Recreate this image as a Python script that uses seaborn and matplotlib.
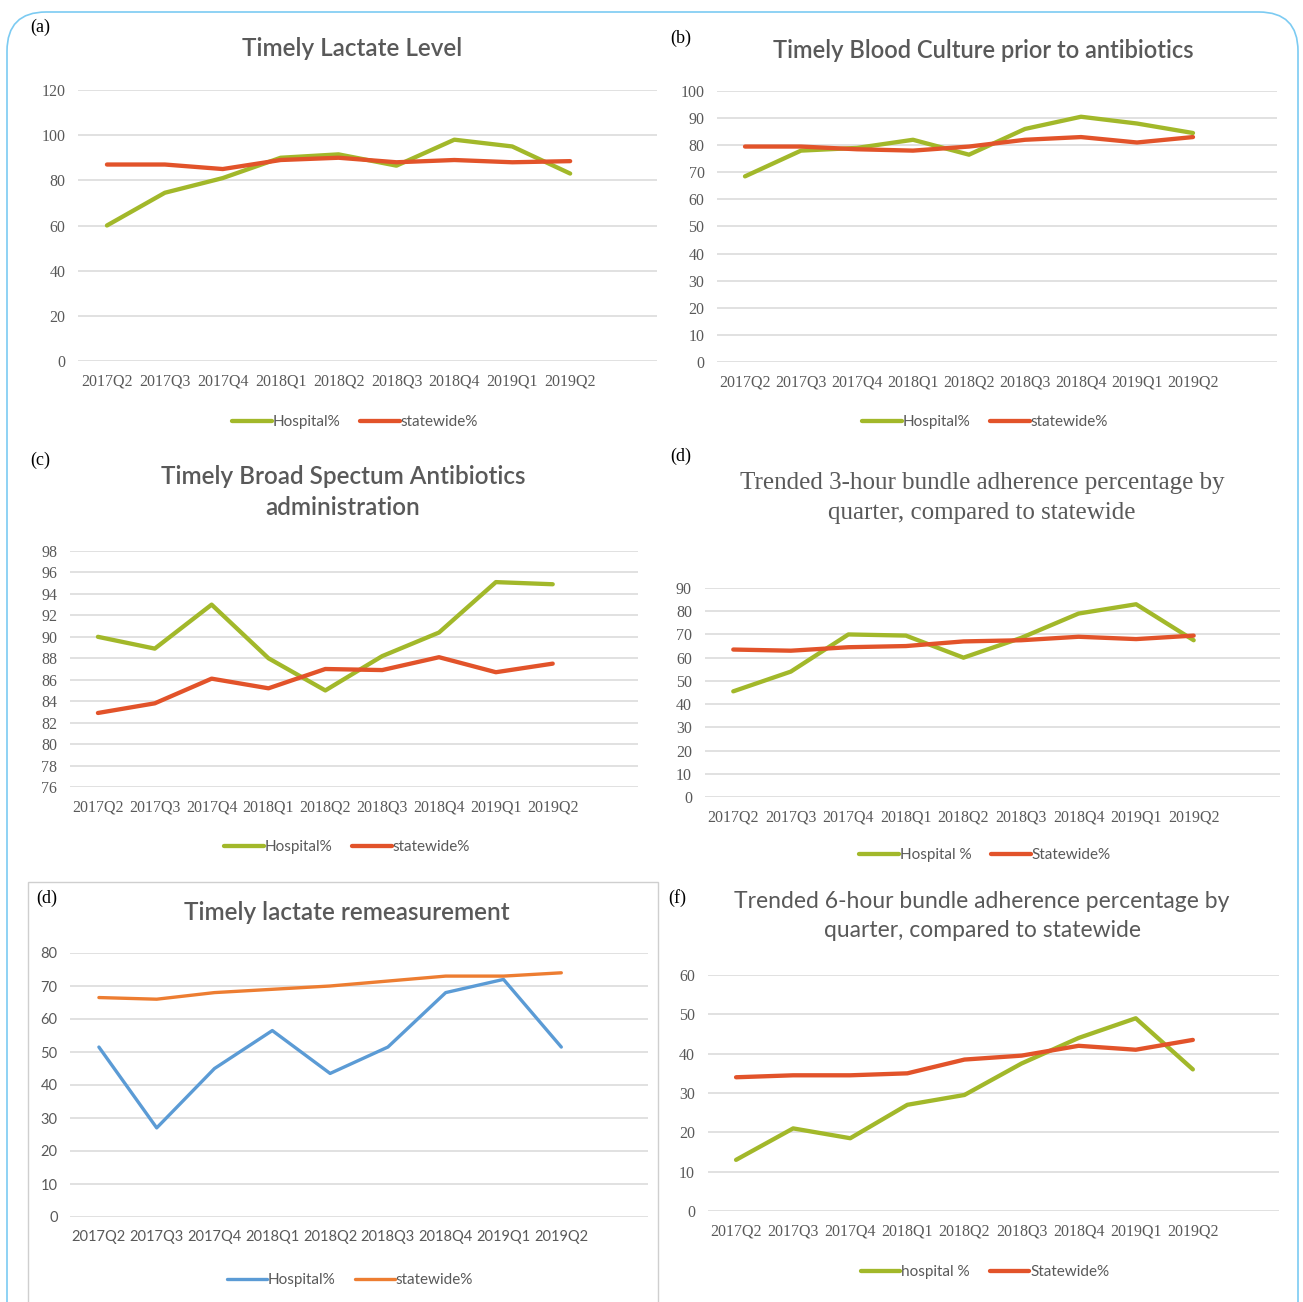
import pandas as pd
import matplotlib.pyplot as plt
import matplotlib.patches as mpatches
import seaborn as sns

sns.set_theme(style="white")

quarters = ["2017Q2", "2017Q3", "2017Q4", "2018Q1", "2018Q2",
            "2018Q3", "2018Q4", "2019Q1", "2019Q2"]

# (a) Timely Lactate Level
lactate_hosp = [60, 74.5, 81, 90, 91.5, 86.5, 98, 95, 83]
lactate_state = [87, 87, 85, 89, 90, 88, 89, 88, 88.5]

# (b) Timely Blood Culture prior to antibiotics
culture_hosp = [68.5, 78, 79, 82, 76.5, 86, 90.5, 88, 84.5]
culture_state = [79.5, 79.5, 78.5, 78, 79.5, 82, 83, 81, 83]

# (c) Timely Broad Spectum Antibiotics administration
abx_hosp = [90, 88.9, 93, 88, 85, 88.2, 90.4, 95.1, 94.9]
abx_state = [82.9, 83.8, 86.1, 85.2, 87, 86.9, 88.1, 86.7, 87.5]

# (d) 3-hour bundle
bundle3_hosp = [45.5, 54, 70, 69.5, 60, 68.5, 79, 83, 67.5]
bundle3_state = [63.5, 63, 64.5, 65, 67, 67.5, 69, 68, 69.5]

# (d, bottom) Timely lactate remeasurement
remeas_hosp = [51.5, 27, 45, 56.5, 43.5, 51.5, 68, 72, 51.5]
remeas_state = [66.5, 66, 68, 69, 70, 71.5, 73, 73, 74]

# (f) 6-hour bundle
bundle6_hosp = [13, 21, 18.5, 27, 29.5, 37.5, 44, 49, 36]
bundle6_state = [34, 34.5, 34.5, 35, 38.5, 39.5, 42, 41, 43.5]

GREEN = "#A2B82A"
RED = "#E2532A"
BLUE = "#5B9BD5"
ORANGE = "#ED7D31"
GRAY = "#595959"

W, H = 1303, 1302
fig = plt.figure(figsize=(W / 100, H / 100), dpi=100)
fig.patch.set_facecolor("white")


def panel(x0, x1, ytop, ybot, hosp, state, names, colors, ylim, ystep,
          legend_xy, tick_family="Liberation Serif", tick_size=11.5, lw=3.1):
    ax = fig.add_axes([x0 / W, 1 - ybot / H, (x1 - x0) / W, (ybot - ytop) / H])
    df = pd.DataFrame({
        "quarter": quarters * 2,
        "value": hosp + state,
        "series": [names[0]] * len(hosp) + [names[1]] * len(state),
    })
    sns.lineplot(data=df, x="quarter", y="value", hue="series",
                 palette=colors, linewidth=lw, ax=ax, legend=False)
    ax.set_xlim(-0.5, 9.5)
    ax.set_ylim(*ylim)
    ax.set_yticks(range(ylim[0], ylim[1] + 1, ystep))
    ax.set_xlabel("")
    ax.set_ylabel("")
    ax.grid(axis="y", color="#D9D9D9", linewidth=1.1)
    ax.set_axisbelow(True)
    for s in ax.spines.values():
        s.set_visible(False)
    ax.tick_params(axis="both", length=0, pad=9, labelcolor=GRAY,
                   labelsize=tick_size)
    for lab in ax.get_xticklabels() + ax.get_yticklabels():
        lab.set_family(tick_family)
    ax.legend(ax.get_lines()[:2], names, loc="center",
              bbox_to_anchor=(legend_xy[0] / W, 1 - legend_xy[1] / H),
              bbox_transform=fig.transFigure, ncol=2, frameon=False,
              handlelength=2.6, handletextpad=0.05, columnspacing=1.3,
              prop={"family": "Lato", "size": 11}, labelcolor=GRAY)
    return ax


def title(x, y, text, family="Lato", size=17.5, weight="semibold",
          linespacing=1.45):
    fig.text(x / W, 1 - y / H, text, ha="center", va="center", color=GRAY,
             fontsize=size, family=family, fontweight=weight,
             linespacing=linespacing)


def label(x, y, text):
    fig.text(x / W, 1 - y / H, text, ha="left", va="center", color="black",
             fontsize=13, family="Liberation Serif")


# outer rounded frame and box round the bottom-left panel
fig.patches.append(mpatches.FancyBboxPatch(
    (7 / W, -0.1), (1298 - 7) / W, 1 - 12 / H + 0.1,
    boxstyle="round,pad=0,rounding_size=0.03", transform=fig.transFigure,
    facecolor="none", edgecolor="#7CCBF2", linewidth=1.2))
fig.patches.append(mpatches.Rectangle(
    (28 / W, -0.05), (658 - 28) / W, 1 - 882 / H + 0.05,
    transform=fig.transFigure, facecolor="none", edgecolor="#CFCFCF",
    linewidth=1.0))

panel(78, 657, 90, 361, lactate_hosp, lactate_state,
      ["Hospital%", "statewide%"], [GREEN, RED], (0, 120), 20, (355, 422))
title(352, 48, "Timely Lactate Level")
label(30, 27, "(a)")

panel(717, 1277, 91, 362, culture_hosp, culture_state,
      ["Hospital%", "statewide%"], [GREEN, RED], (0, 100), 10, (985, 422))
title(983, 50, "Timely Blood Culture prior to antibiotics", size=17)
label(670, 38, "(b)")

panel(69.5, 638, 551, 787, abx_hosp, abx_state,
      ["Hospital%", "statewide%"], [GREEN, RED], (76, 98), 2, (347, 847))
title(343, 492, "Timely Broad Spectum Antibiotics\nadministration")
label(30, 460, "(c)")

panel(704.5, 1280, 588, 797, bundle3_hosp, bundle3_state,
      ["Hospital %", "Statewide%"], [GREEN, RED], (0, 90), 10, (985, 855))
title(982, 498, "Trended 3-hour bundle adherence percentage by\nquarter, compared to statewide",
      family="Liberation Serif", size=18, weight="normal", linespacing=1.5)
label(670, 456, "(d)")

panel(70, 648, 953, 1217, remeas_hosp, remeas_state,
      ["Hospital%", "statewide%"], [BLUE, ORANGE], (0, 80), 10, (350, 1280),
      tick_family="Lato", tick_size=10.5, lw=2.4)
title(347, 913, "Timely lactate remeasurement")
label(36, 898, "(d)")

panel(707.5, 1278.5, 975, 1211, bundle6_hosp, bundle6_state,
      ["hospital %", "Statewide%"], [GREEN, RED], (0, 60), 10, (985, 1272))
title(982, 916, "Trended 6-hour bundle adherence percentage by\nquarter, compared to statewide",
      size=16.5, weight="normal", linespacing=1.5)
label(668, 898, "(f)")

fig.savefig("out.png", dpi=100)
